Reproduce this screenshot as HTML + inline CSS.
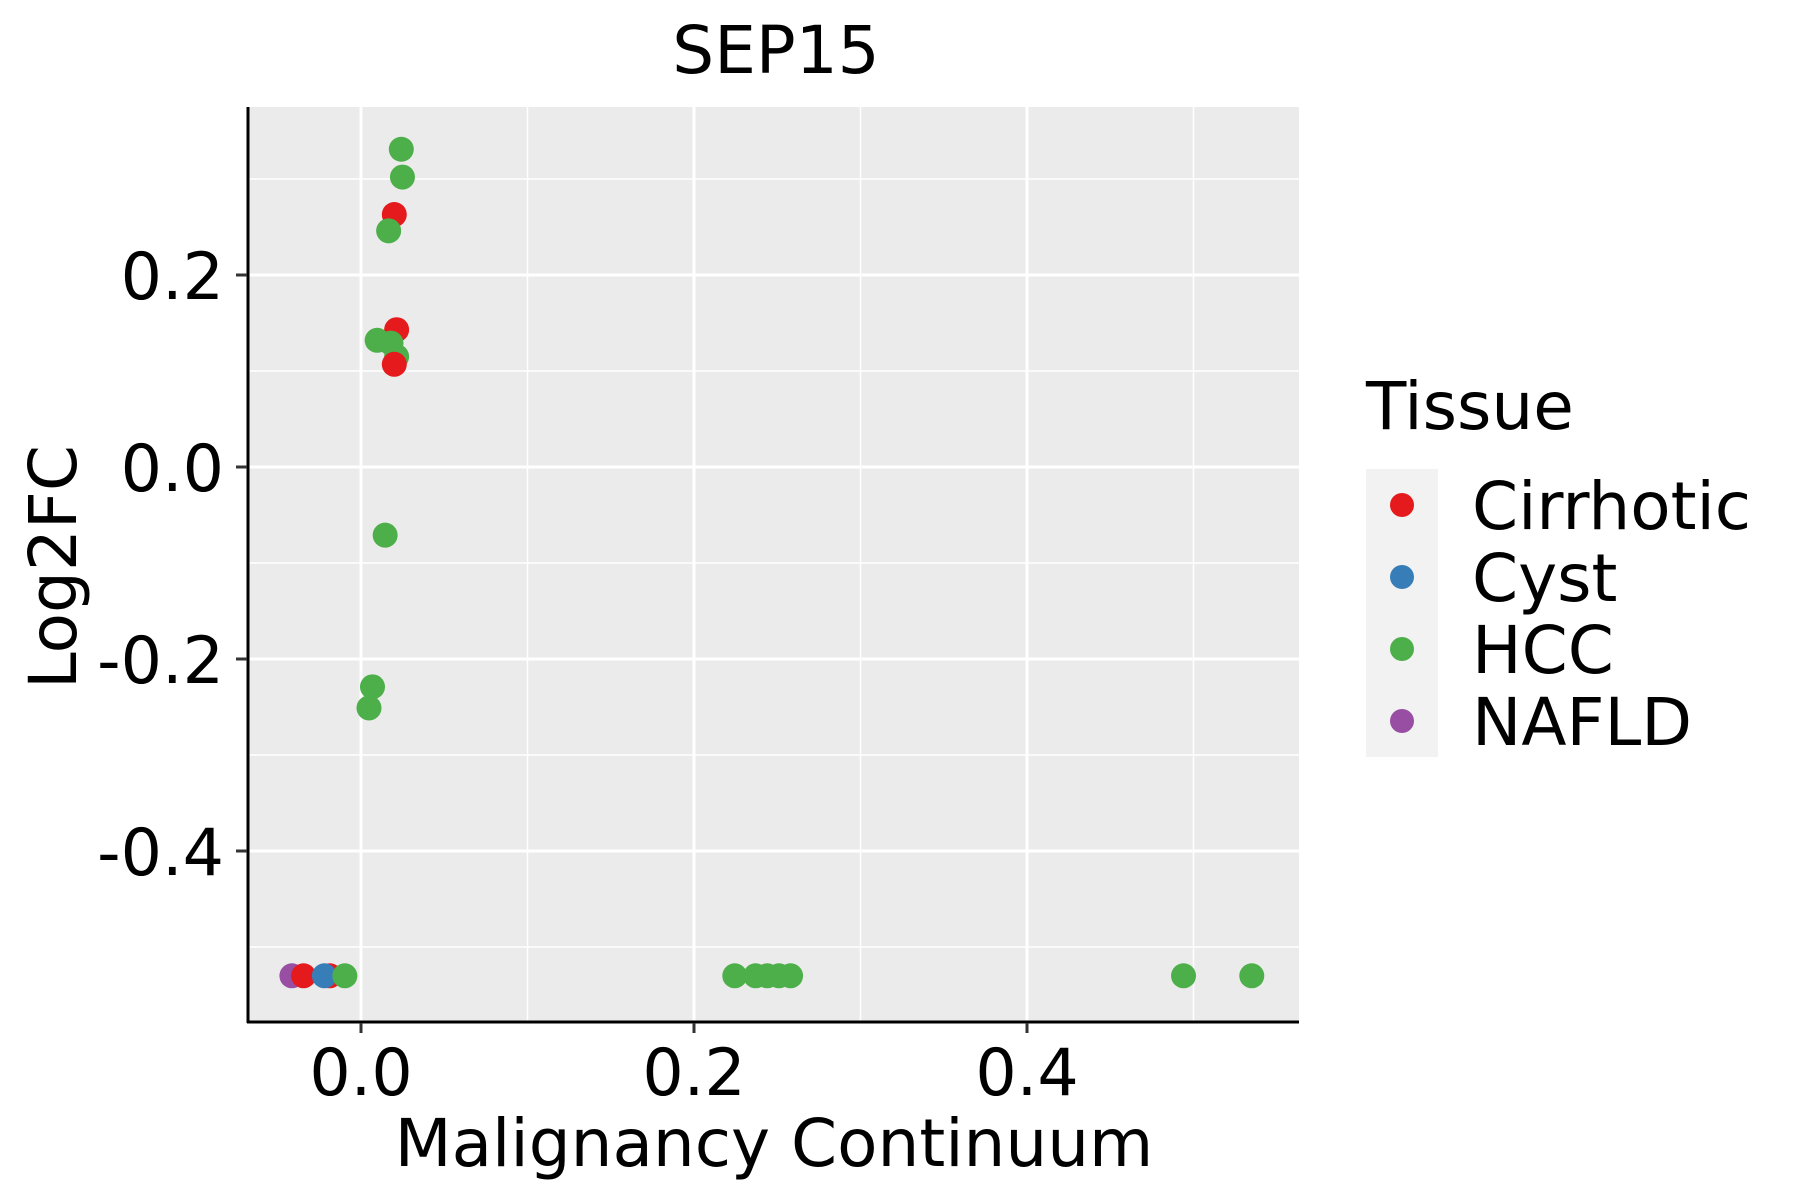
<!DOCTYPE html>
<html><head><meta charset="utf-8"><style>
html,body{margin:0;padding:0;background:#fff;}
svg{display:block;font-family:"DejaVu Sans","Liberation Sans",sans-serif;}
</style></head><body>
<svg id="chart" width="1800" height="1200" viewBox="0 0 1800 1200">
<rect x="0" y="0" width="1800" height="1200" fill="#fff"/>
<rect x="249" y="107" width="1050" height="914" fill="#ebebeb"/>
<g id="grid"></g>
<g id="points"></g>
<line x1="248" y1="107" x2="248" y2="1023" stroke="#000" stroke-width="3"/>
<line x1="247" y1="1022" x2="1299" y2="1022" stroke="#000" stroke-width="3"/>
<g id="ticks"></g>
<text x="776" y="73" text-anchor="middle" font-size="66">SEP15</text>
<text x="774" y="1166" text-anchor="middle" font-size="66">Malignancy Continuum</text>
<text transform="translate(76,567) rotate(-90)" text-anchor="middle" font-size="66">Log2FC</text>
<g>
<text x="1366" y="429" font-size="66">Tissue</text>
<rect x="1366" y="469" width="72" height="288" fill="#f2f2f2"/>
<g id="legend-items"></g>
</g>
</svg>
<script>
const xTicks=[0.0,0.2,0.4];
const xTickLabels=["0.0","0.2","0.4"];
const yTicks=[-0.4,-0.2,0.0,0.2];
const yTickLabels=["-0.4","-0.2","0.0","0.2"];
const tissues=["Cirrhotic","Cyst","HCC","NAFLD"];
const colors=["#e41a1c","#377eb8","#4daf4a","#984ea3"];
const ptX=[-0.0415,-0.0345,-0.0187,-0.022,-0.0097,0.0242,0.0249,0.020,0.0166,0.0214,0.0097,0.018,0.0214,0.020,0.0145,0.0069,0.0048,0.2245,0.237,0.244,0.251,0.258,0.494,0.535];
const ptY=[-0.53,-0.53,-0.53,-0.53,-0.53,0.331,0.302,0.263,0.246,0.143,0.132,0.129,0.115,0.107,-0.071,-0.229,-0.251,-0.53,-0.53,-0.53,-0.53,-0.53,-0.53,-0.53];
const ptGroup=[3,0,0,1,2,2,2,0,2,0,2,2,2,0,2,2,2,2,2,2,2,2,2,2];
const NS="http://www.w3.org/2000/svg";
const xs=v=>361+1665*v;
const ys=v=>467-960*v;
const L=249,R=1299,T=107,B=1021;
function mk(t,a,p){const e=document.createElementNS(NS,t);for(const k in a)e.setAttribute(k,a[k]);p.appendChild(e);return e;}
const grid=document.getElementById('grid');
const xMinor=[-0.1,0.1,0.3,0.5],yMinor=[-0.5,-0.3,-0.1,0.1,0.3];
xMinor.forEach(v=>{const x=xs(v);if(x>L&&x<R){const e=mk('line',{x1:x,x2:x,y1:T,y2:B,stroke:'#fff','stroke-width':1.5},grid);

}});
yMinor.forEach(v=>{const y=ys(v);if(y>T&&y<B){const e=mk('line',{x1:L,x2:R,y1:y,y2:y,stroke:'#fff','stroke-width':1.5},grid);

}});
xTicks.forEach(v=>{const e=mk('line',{x1:xs(v),x2:xs(v),y1:T,y2:B,stroke:'#fff','stroke-width':3},grid);

});
yTicks.forEach(v=>{const e=mk('line',{x1:L,x2:R,y1:ys(v),y2:ys(v),stroke:'#fff','stroke-width':3},grid);

});
const pts=document.getElementById('points');
ptX.forEach((v,i)=>{const c=mk('circle',{cx:xs(v),cy:ys(ptY[i]),r:12.5,fill:colors[ptGroup[i]]},pts);

});
const tk=document.getElementById('ticks');
xTicks.forEach((v,i)=>{const l=mk('line',{x1:xs(v),x2:xs(v),y1:1023,y2:1033,stroke:'#333','stroke-width':3},tk);


const t=mk('text',{x:xs(v),y:1095,'text-anchor':'middle','font-size':65},tk);t.textContent=xTickLabels[i];

});
yTicks.forEach((v,i)=>{const l=mk('line',{x1:236,x2:247,y1:ys(v),y2:ys(v),stroke:'#333','stroke-width':3},tk);


const t=mk('text',{x:224,y:ys(v)+24,'text-anchor':'end','font-size':65},tk);t.textContent=yTickLabels[i];

});
const lg=document.getElementById('legend-items');
tissues.forEach((n,i)=>{const y=505+72*i;
const c=mk('circle',{cx:1402,cy:y,r:12,fill:colors[i]},lg);


const t=mk('text',{x:1472,y:y+24,'font-size':66},lg);t.textContent=n;

});
</script>
</body></html>
